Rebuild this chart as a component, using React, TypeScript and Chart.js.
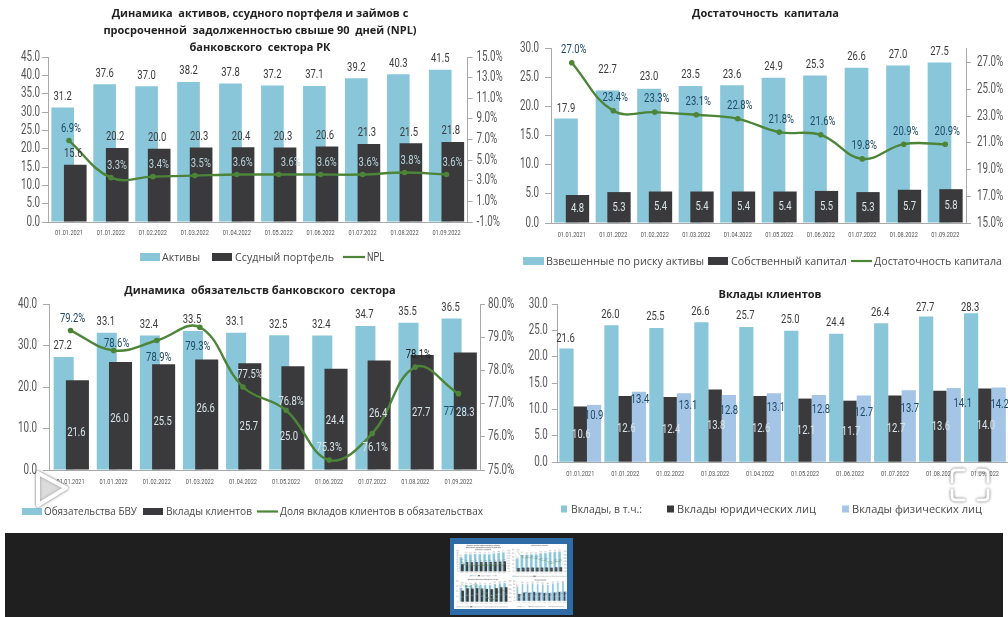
import React, { useEffect, useRef } from "react";
import { Chart, registerables } from "chart.js";

Chart.register(...registerables);

const dates = ["01.01.2021", "01.01.2022", "01.02.2022", "01.03.2022", "01.04.2022", "01.05.2022", "01.06.2022", "01.07.2022", "01.08.2022", "01.09.2022"];

const assets = [31.2, 37.6, 37.0, 38.2, 37.8, 37.2, 37.1, 39.2, 40.3, 41.5];
const loans = [15.6, 20.2, 20.0, 20.3, 20.4, 20.3, 20.6, 21.3, 21.5, 21.8];
const npl = [6.9, 3.3, 3.4, 3.5, 3.6, 3.6, 3.6, 3.6, 3.8, 3.6];

const rwa = [17.9, 22.7, 23.0, 23.5, 23.6, 24.9, 25.3, 26.6, 27.0, 27.5];
const equity = [4.8, 5.3, 5.4, 5.4, 5.4, 5.4, 5.5, 5.3, 5.7, 5.8];
const adequacy = [27.0, 23.4, 23.3, 23.1, 22.8, 21.8, 21.6, 19.8, 20.9, 20.9];
const adequacyTicks = [15, 17, 19, 21, 23, 25, 27];

const liabilities = [27.2, 33.1, 32.4, 33.5, 33.1, 32.5, 32.4, 34.7, 35.5, 36.5];
const deposits = [21.6, 26.0, 25.5, 26.6, 25.7, 25.0, 24.4, 26.4, 27.7, 28.3];
const depositShare = [79.2, 78.6, 78.9, 79.3, 77.5, 76.8, 75.3, 76.1, 78.1, 77.3];

const depositsTotal = [21.6, 26.0, 25.5, 26.6, 25.7, 25.0, 24.4, 26.4, 27.7, 28.3];
const depositsLegal = [10.6, 12.6, 12.4, 13.8, 12.6, 12.1, 11.7, 12.7, 13.6, 14.0];
const depositsRetail = [10.9, 13.4, 13.1, 12.8, 13.1, 12.8, 12.7, 13.7, 14.1, 14.2];

const BLUE = "#8ac6d9";
const DARK = "#3a3a3c";
const LIGHT = "#a5c5e6";
const GREEN = "#4c8538";
const NAVY = "#1d4a68";
const INK = "#3c3c3c";
const PALE = "#d8e4e8";
const AXIS = "#a9a9a9";
const NARROW = "Roboto, sans-serif";
const SANS = '"Open Sans", sans-serif';
const SQUEEZE = 0.7;

// No condensed face is installed, so text set in the narrow family is drawn squeezed horizontally.
const condensedText = {
  id: "condensedText",
  beforeInit(chart: any) {
    const ctx = chart.ctx;
    const plain = ctx.fillText.bind(ctx);
    ctx.fillText = (text: string, x: number, y: number, maxWidth?: number) => {
      if (!String(ctx.font).includes("Roboto")) {
        if (maxWidth === undefined) plain(text, x, y);
        else plain(text, x, y, maxWidth);
        return;
      }
      ctx.save();
      ctx.translate(x, y);
      ctx.scale(SQUEEZE, 1);
      plain(text, 0, 0);
      ctx.restore();
    };
  },
};

const paintInOrder = {
  id: "paintInOrder",
  beforeDatasetDraw: () => false,
  afterDatasetsDraw(chart: any) {
    chart.data.datasets.forEach((_: any, i: number) => chart.getDatasetMeta(i).controller.draw());
  },
};

const at = (v: any, i: number) => (Array.isArray(v) ? v[i] : v);

const valueLabels = {
  id: "valueLabels",
  afterDraw(chart: any, _a: any, opts: any) {
    const { ctx } = chart;
    ctx.save();
    ctx.textAlign = "center";
    ctx.textBaseline = "middle";
    ctx.font = `13.5px ${NARROW}`;
    for (const spec of opts.specs || []) {
      const meta = chart.getDatasetMeta(spec.ds);
      const values = chart.data.datasets[spec.ds].data;
      meta.data.forEach((el: any, i: number) => {
        const y = spec.anchor === "center" ? (el.y + el.base) / 2 : el.y;
        ctx.fillStyle = at(spec.color, i);
        const txt = values[i].toFixed(1) + (spec.pct ? "%" : "");
        ctx.fillText(txt, el.x + (at(spec.dx, i) || 0), y + (at(spec.dy, i) || 0));
      });
    }
    ctx.restore();
  },
};

const customLegend = {
  id: "customLegend",
  afterDraw(chart: any, _a: any, opts: any) {
    const { ctx } = chart;
    ctx.save();
    ctx.textBaseline = "middle";
    for (const it of opts.items || []) {
      const x = it.x - opts.left;
      const y = opts.y;
      if (it.kind === "line") {
        ctx.strokeStyle = it.color;
        ctx.lineWidth = 2.2;
        ctx.beginPath();
        ctx.moveTo(x, y);
        ctx.lineTo(x + it.w, y);
        ctx.stroke();
      } else {
        ctx.fillStyle = it.color;
        ctx.fillRect(x, y - it.h / 2, it.w, it.h);
      }
      ctx.fillStyle = "#4a4a4a";
      ctx.font = it.font;
      ctx.fillText(it.text, it.tx - opts.left, y + 0.5, it.tw);
    }
    ctx.restore();
  },
};

const barDs = (label: string, data: number[], color: string, bp: number, cp: number) => ({
  type: "bar" as const, label, data, backgroundColor: color, barPercentage: bp, categoryPercentage: cp, yAxisID: "y",
});
const lineDs = (label: string, data: number[]) => ({
  type: "line" as const, label, data, borderColor: GREEN, backgroundColor: GREEN, borderWidth: 2.4,
  pointRadius: 1.6, pointBackgroundColor: GREEN, tension: 0.4, yAxisID: "y1", clip: false,
});

function makeConfig(p: any) {
  const scales: any = {
    x: {
      grid: { display: false, drawTicks: false },
      border: { display: true, color: AXIS },
      ticks: { font: { family: NARROW, size: 8 }, color: "#555", padding: p.xPad, maxRotation: 0, autoSkip: false },
      afterFit: (s: any) => { s.height = p.canvas.h - (p.plot.bottom - p.canvas.y); },
    },
    y: {
      min: p.y[0], max: p.y[1],
      grid: { drawOnChartArea: false, color: AXIS, tickLength: 6 },
      border: { display: true, color: AXIS },
      ticks: { stepSize: p.y[2], autoSkip: false, font: { family: NARROW, size: 14 }, color: "#555", padding: p.yPad, includeBounds: false, callback: (v: number) => v.toFixed(1) },
      afterFit: (s: any) => { s.width = p.plot.left - p.canvas.x; },
    },
  };
  if (p.y1) {
    scales.y1 = {
      position: "right",
      min: p.y1[0], max: p.y1[1],
      grid: { drawOnChartArea: false, color: AXIS, tickLength: 5 },
      border: { display: true, color: AXIS },
      ticks: { stepSize: p.y1[2], autoSkip: false, font: { family: NARROW, size: 14 }, color: "#555", padding: p.y1Pad, includeBounds: false, callback: (v: number) => v.toFixed(1) + "%" },
      afterFit: (s: any) => { s.width = p.canvas.w - (p.plot.right - p.canvas.x); },
    };
    if (p.y1Ticks) {
      scales.y1.afterBuildTicks = (s: any) => { s.ticks = p.y1Ticks.map((value: number) => ({ value })); };
    }
  }
  return {
    type: "bar" as const,
    data: { labels: dates, datasets: p.datasets },
    plugins: [condensedText, paintInOrder, valueLabels, customLegend],
    options: {
      responsive: false,
      animation: false as const,
      layout: { padding: 0 },
      scales,
      plugins: {
        legend: { display: false },
        tooltip: { enabled: false },
        title: {
          display: true, text: p.title, color: "#222",
          font: { family: SANS, size: 11, weight: "bold", lineHeight: "17px" },
          padding: { top: p.titleTop, bottom: p.plot.top - p.canvas.y - p.titleTop - 17 * p.title.length },
        },
        valueLabels: { specs: p.labels },
        customLegend: { items: p.legend, y: p.legendY - p.canvas.y, left: p.canvas.x },
      },
    },
  };
}

const f11 = `11.4px ${SANS}`;

const panels: any[] = [
  {
    canvas: { x: 0, y: 0, w: 520, h: 270 },
    plot: { left: 48, right: 467.5, top: 57, bottom: 222 },
    y: [0, 45, 5], y1: [-1, 15, 2], xPad: 6, yPad: 2, y1Pad: 4, titleTop: 5,
    title: ["Динамика  активов, ссудного портфеля и займов с", "просроченной  задолженностью свыше 90  дней (NPL)", "банковского  сектора РК"],
    datasets: [barDs("Активы", assets, BLUE, 1.8, 0.6), barDs("Ссудный портфель", loans, DARK, 1.8, 0.6), lineDs("NPL", npl)],
    labels: [
      { ds: 0, dy: -11, color: INK },
      { ds: 1, dy: -11, dx: -2, color: INK },
      { ds: 2, dy: -12, dx: [2, 6, 6, 6, 6, 12, 6, 6, 6, 6], pct: true, color: [NAVY, "#b9d3dc", "#b9d3dc", "#b9d3dc", "#b9d3dc", "#b9d3dc", "#b9d3dc", "#b9d3dc", "#b9d3dc", "#b9d3dc"] },
    ],
    legendY: 257,
    legend: [
      { kind: "rect", x: 140, w: 20, h: 8, color: BLUE, tx: 162, tw: 38, text: "Активы", font: f11 },
      { kind: "rect", x: 212, w: 20, h: 8, color: DARK, tx: 235, tw: 99, text: "Ссудный портфель", font: f11 },
      { kind: "line", x: 343, w: 22, color: GREEN, tx: 367, text: "NPL", font: `13px ${NARROW}` },
    ],
  },
  {
    canvas: { x: 518, y: 0, w: 495, h: 270 },
    plot: { left: 551, right: 966, top: 48, bottom: 223 },
    y: [0, 30, 5], y1: [15, 28.1, 2], y1Ticks: adequacyTicks, xPad: 7, yPad: 6, y1Pad: 6, titleTop: 5,
    title: ["Достаточность  капитала"],
    datasets: [barDs("Взвешенные по риску активы", rwa, BLUE, 2.06, 0.554), barDs("Собственный капитал", equity, DARK, 2.03, 0.554), lineDs("Достаточность капитала", adequacy)],
    labels: [
      { ds: 0, dy: [-10, -21, -12, -11, -11, -11, -11, -11, -11, -11], color: INK },
      { ds: 1, anchor: "center", color: PALE },
      { ds: 2, dy: -13, dx: 2, pct: true, color: NAVY },
    ],
    legendY: 261,
    legend: [
      { kind: "rect", x: 523, w: 21, h: 8, color: BLUE, tx: 546, tw: 158, text: "Взвешенные по риску активы", font: f11 },
      { kind: "rect", x: 708, w: 20, h: 8, color: DARK, tx: 731, tw: 116, text: "Собственный капитал", font: f11 },
      { kind: "line", x: 851, w: 21, color: GREEN, tx: 874, tw: 128, text: "Достаточность капитала", font: f11 },
    ],
  },
  {
    canvas: { x: 0, y: 270, w: 520, h: 260 },
    plot: { left: 49, right: 480, top: 304, bottom: 470 },
    y: [0, 40, 10], y1: [75, 80, 1], xPad: 7, yPad: 6, y1Pad: 3, titleTop: 12,
    title: ["Динамика  обязательств банковского  сектора"],
    datasets: [barDs("Обязательства БВУ", liabilities, BLUE, 1.46, 0.637), barDs("Вклады клиентов", deposits, DARK, 1.68, 0.637), lineDs("Доля вкладов клиентов в обязательствах", depositShare)],
    labels: [
      { ds: 2, pct: true, dx: [2, 3, 2, -2, 7, 5, 0, 3, 3, -2], dy: [-12, -7, 17, 19, -12, -9, -12, 14, -12, 18], color: [NAVY, NAVY, NAVY, NAVY, PALE, PALE, PALE, PALE, "#222", NAVY] },
      { ds: 0, dy: -11, dx: -1, color: INK },
      { ds: 1, anchor: "center", dx: [-1, -1, -1, -1, -1, -4, -1, -1, -1, 0], dy: [8, 3, 5, -6, 10, 19, 2, -1, 0, 2], color: PALE },
    ],
    legendY: 511.5,
    legend: [
      { kind: "rect", x: 22, w: 20, h: 7, color: BLUE, tx: 44, tw: 93, text: "Обязательства БВУ", font: f11 },
      { kind: "rect", x: 143, w: 20, h: 7, color: DARK, tx: 166, tw: 86, text: "Вклады клиентов", font: f11 },
      { kind: "line", x: 257, w: 21, color: GREEN, tx: 280, tw: 203, text: "Доля вкладов клиентов в обязательствах", font: f11 },
    ],
  },
  {
    canvas: { x: 528, y: 270, w: 484, h: 260 },
    plot: { left: 557.8, right: 1001, top: 304.3, bottom: 462.3 },
    y: [0, 30, 5], xPad: 7, yPad: 4, titleTop: 16,
    title: ["Вклады клиентов"],
    datasets: [barDs("Вклады, в т.ч.:", depositsTotal, BLUE, 1.03, 0.92), barDs("Вклады юридических лиц", depositsLegal, DARK, 0.97, 0.92), barDs("Вклады физических лиц", depositsRetail, LIGHT, 1.03, 0.92)],
    labels: [
      { ds: 0, dy: [-10, -11, -11, -11, -11, -11, -11, -11, -9, -6], dx: -1, color: INK },
      { ds: 1, anchor: "center", dx: 1, color: PALE },
      { ds: 2, dy: [11, 8, 12, 16, 14, 15, 17, 18, 16, 17], dx: [0, 1, 4, 0, 2, 2, 0, 1, 9, 1], color: NAVY },
    ],
    legendY: 509,
    legend: [
      { kind: "rect", x: 561, w: 6, h: 7, color: BLUE, tx: 571, tw: 71, text: "Вклады, в т.ч.:", font: f11 },
      { kind: "rect", x: 667, w: 7, h: 7, color: DARK, tx: 677, tw: 139, text: "Вклады юридических лиц", font: f11 },
      { kind: "rect", x: 842, w: 7, h: 7, color: LIGHT, tx: 852, tw: 130, text: "Вклады физических лиц", font: f11 },
    ],
  },
];

export default function App() {
  const refs = useRef<(HTMLCanvasElement | null)[]>([]);
  const thumb = useRef<HTMLCanvasElement | null>(null);

  useEffect(() => {
    const charts = panels.map((p, i) => new Chart(refs.current[i] as HTMLCanvasElement, makeConfig(p) as any));
    const t = thumb.current;
    if (t) {
      const c = t.getContext("2d") as CanvasRenderingContext2D;
      c.fillStyle = "#fff";
      c.fillRect(0, 0, t.width, t.height);
      const sx = t.width / 1008;
      const sy = t.height / 530;
      c.imageSmoothingQuality = "high";
      panels.forEach((p, i) => {
        c.drawImage(refs.current[i] as HTMLCanvasElement, p.canvas.x * sx, p.canvas.y * sy, p.canvas.w * sx, p.canvas.h * sy);
      });
    }
    return () => charts.forEach((ch) => ch.destroy());
  }, []);

  return (
    <div style={{ position: "fixed", left: 0, top: 0, width: 1008, height: 617, overflow: "hidden", background: "#fff" }}>
      <div style={{ position: "absolute", inset: 0, filter: "blur(0.45px)" }}>
        {panels.map((p, i) => (
          <canvas
            key={i}
            ref={(el) => { refs.current[i] = el; }}
            width={p.canvas.w}
            height={p.canvas.h}
            style={{ position: "absolute", left: p.canvas.x, top: p.canvas.y, width: p.canvas.w, height: p.canvas.h }}
          />
        ))}
      </div>
      <div style={{ position: "absolute", left: 5, top: 533, width: 998, height: 84, background: "#1f1f1f" }} />
      <div style={{ position: "absolute", left: 450, top: 538, width: 123, height: 77, background: "#2f6ca6" }} />
      <canvas ref={thumb} width={113} height={65} style={{ position: "absolute", left: 454, top: 544, width: 113, height: 65, filter: "blur(0.4px)" }} />
      <svg width={1008} height={617} style={{ position: "absolute", left: 0, top: 0, pointerEvents: "none" }}>
        <g style={{ filter: "drop-shadow(0 0 1.5px rgba(60,60,60,0.8))" }}>
          <path d="M38 473 L66 488 L38 505 Z" fill="rgba(255,255,255,0.35)" stroke="#ffffff" strokeWidth={4} strokeLinejoin="round" />
          <g fill="none" stroke="#ffffff" strokeWidth={3} strokeLinecap="round">
            <path d="M952 482 L952 474 Q952 470 956 470 L964 470" />
            <path d="M978 470 L984 470 Q988 470 988 474 L988 482" />
            <path d="M952 490 L952 496 Q952 500 956 500 L964 500" />
            <path d="M978 500 L984 500 Q988 500 988 496 L988 490" />
          </g>
        </g>
      </svg>
    </div>
  );
}
